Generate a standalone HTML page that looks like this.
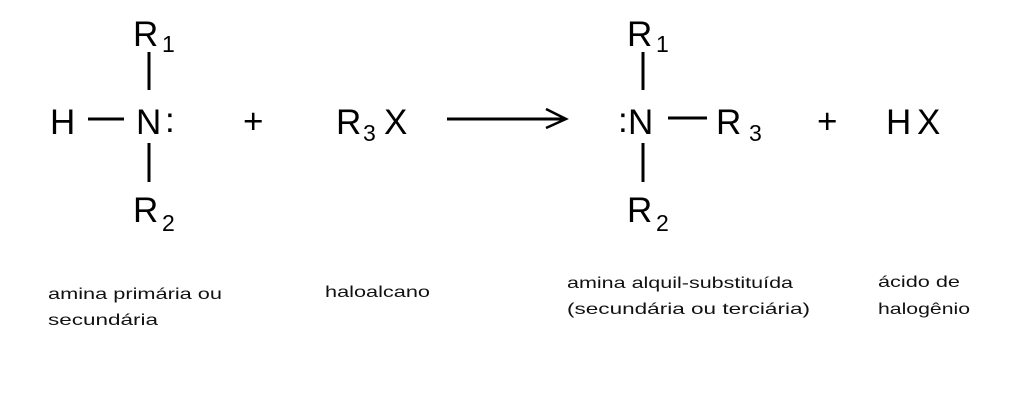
<!DOCTYPE html>
<html><head><meta charset="utf-8"><style>html,body{margin:0;padding:0;background:#fff;}</style></head>
<body>
<svg width="1024" height="410" viewBox="0 0 1024 410" xmlns="http://www.w3.org/2000/svg" font-family="Liberation Sans, Arial, sans-serif" fill="#000">
<g font-size="35">
<text x="133" y="46">R</text><text x="162" y="52" font-size="23">1</text>
<text x="50" y="134">H</text>
<text x="136" y="134">N</text>
<text x="165" y="132">:</text>
<text x="133" y="222">R</text><text x="162" y="231" font-size="23">2</text>
<text x="243" y="133">+</text>
<text x="336" y="134">R</text><text x="363" y="141" font-size="23">3</text><text x="384" y="134">X</text>
<text x="618" y="132">:</text>
<text x="628" y="134">N</text>
<text x="716" y="134">R</text><text x="749" y="141" font-size="23">3</text>
<text x="627" y="46">R</text><text x="656" y="52" font-size="23">1</text>
<text x="627" y="222">R</text><text x="656" y="231" font-size="23">2</text>
<text x="817" y="133">+</text>
<text x="886" y="134">H</text><text x="917" y="134">X</text>
</g>
<g stroke="#000" stroke-width="3">
<line x1="149" y1="52" x2="149" y2="90"/>
<line x1="149" y1="143" x2="149" y2="182"/>
<line x1="88" y1="119" x2="124" y2="119"/>
<line x1="643" y1="52" x2="643" y2="90"/>
<line x1="643" y1="143" x2="643" y2="182"/>
<line x1="668" y1="118" x2="707" y2="118"/>
<line x1="447" y1="119" x2="565" y2="119"/>
<polyline points="546,109 566,119 546,128" fill="none" stroke-width="2.5"/>
</g>
<g font-size="16" fill="#111">
<text x="48" y="299" textLength="174" lengthAdjust="spacingAndGlyphs">amina primária ou</text>
<text x="48" y="325" textLength="110" lengthAdjust="spacingAndGlyphs">secundária</text>
<text x="325" y="297" textLength="105" lengthAdjust="spacingAndGlyphs">haloalcano</text>
<text x="567" y="288" textLength="226" lengthAdjust="spacingAndGlyphs">amina alquil-substituída</text>
<text x="567" y="314" textLength="243" lengthAdjust="spacingAndGlyphs">(secundária ou terciária)</text>
<text x="878" y="287" textLength="82" lengthAdjust="spacingAndGlyphs">ácido de</text>
<text x="878" y="314" textLength="92" lengthAdjust="spacingAndGlyphs">halogênio</text>
</g>
</svg>
</body></html>
